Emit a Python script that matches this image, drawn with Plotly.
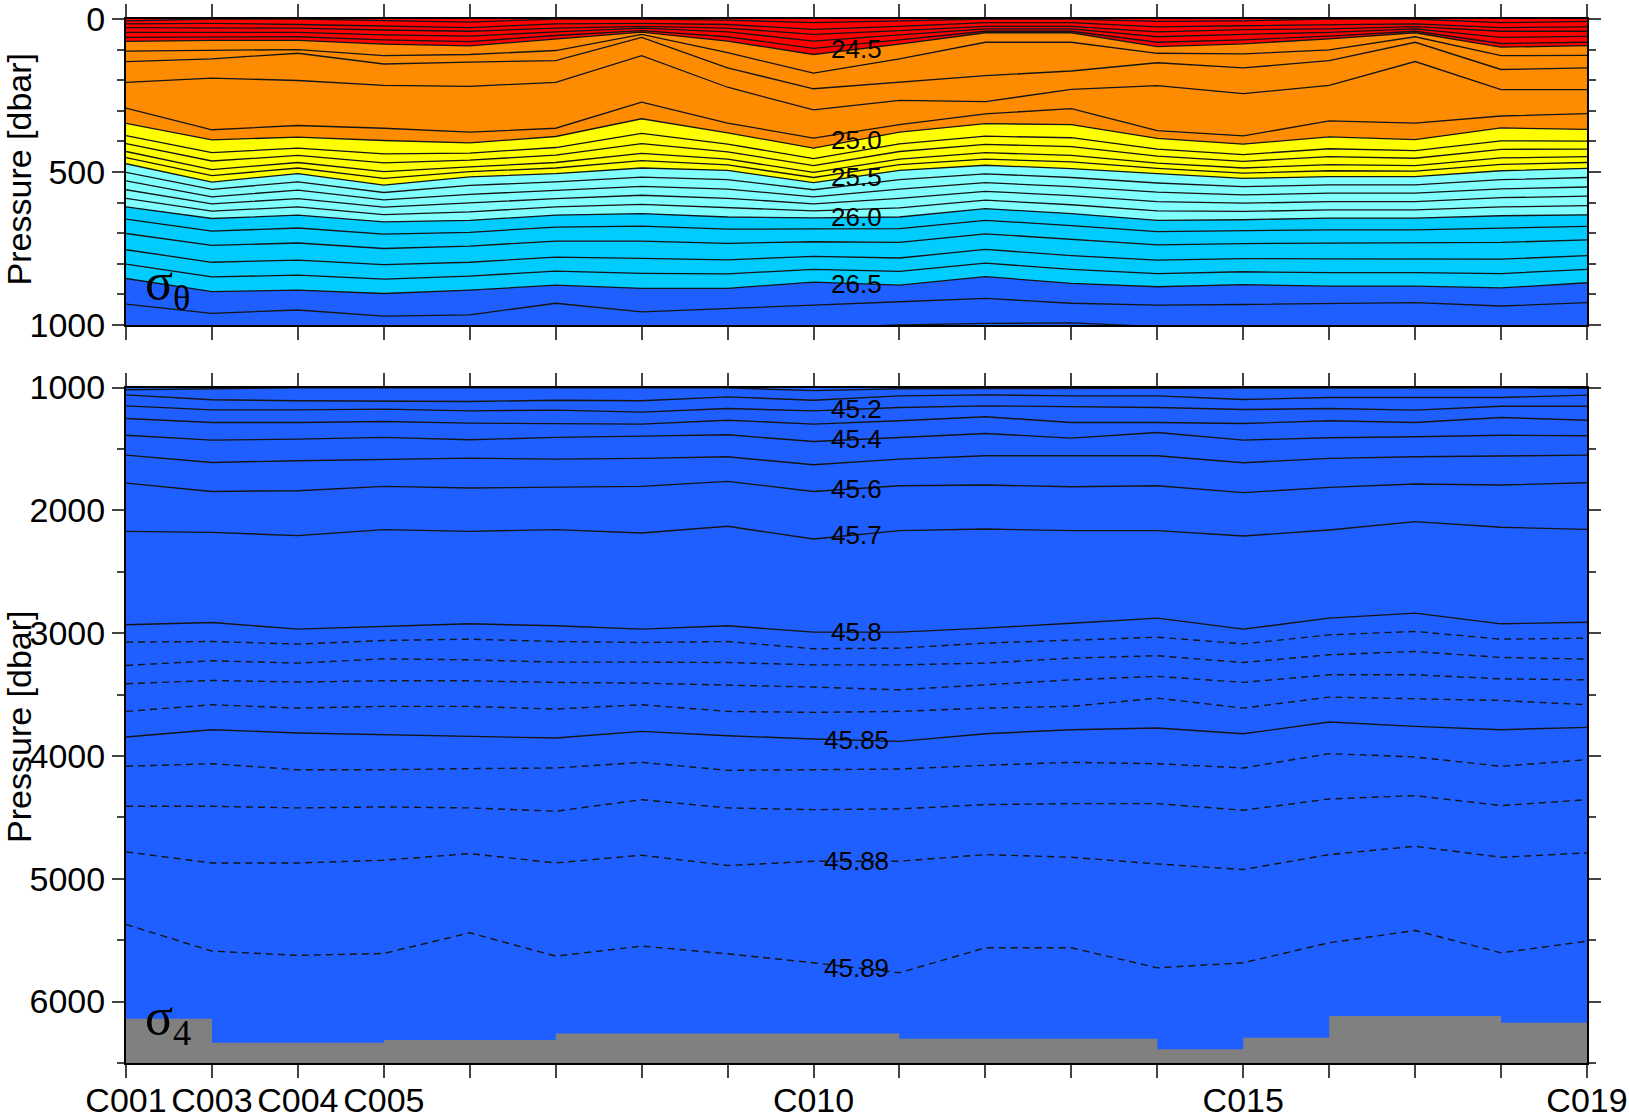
import plotly.graph_objects as go

# ---------------- stations ----------------
STATIONS = ["C001", "C003", "C004", "C005", "C006", "C007", "C008", "C009", "C010",
            "C011", "C012", "C013", "C014", "C015", "C016", "C017", "C018", "C019"]
SHOWN = ["C001", "C003", "C004", "C005", "C010", "C015", "C019"]

# ---------------- upper panel: sigma-theta isopycnal depths [dbar] ----------------
S23_6 = [6, 0, 0, 6, 10, 0, 0, 4, 12, 6, 0, 0, 8, 6, 0, 0, 12, 8]
S23_8 = [16, 14, 18, 24, 28, 16, 14, 18, 34, 24, 12, 12, 26, 22, 20, 16, 28, 26]
S24_0 = [28, 30, 30, 36, 40, 30, 24, 30, 50, 38, 24, 24, 42, 35, 32, 25, 40, 40]
S24_2 = [44, 43, 44, 52, 56, 42, 30, 42, 72, 52, 32, 32, 58, 50, 44, 32, 60, 57]
S24_4 = [60, 58, 58, 68, 74, 54, 38, 58, 96, 68, 40, 40, 76, 68, 56, 40, 80, 76]
S24_5 = [73, 70, 70, 82, 88, 65, 43, 72, 116, 82, 45, 45, 90, 81, 65, 45, 92, 87]
S24_6 = [105, 102, 100, 120, 116, 103, 50, 110, 177, 130, 76, 76, 112, 114, 101, 58, 120, 119]
S24_7 = [139, 130, 112, 147, 141, 136, 60, 160, 228, 206, 185, 170, 143, 160, 136, 76, 165, 160]
S24_8 = [207, 193, 201, 217, 220, 207, 120, 223, 297, 266, 270, 230, 218, 244, 217, 139, 231, 231]
S24_9 = [291, 362, 348, 357, 370, 357, 272, 340, 389, 345, 310, 293, 365, 382, 333, 340, 317, 309]
S25_0 = [341, 395, 386, 397, 405, 384, 326, 372, 422, 370, 342, 345, 390, 409, 385, 394, 356, 361]
S25_1 = [381, 437, 422, 441, 438, 420, 374, 409, 456, 408, 383, 388, 425, 443, 424, 430, 398, 399]
S25_2 = [407, 464, 446, 470, 461, 445, 407, 434, 479, 433, 410, 417, 448, 465, 450, 455, 426, 425]
S25_3 = [433, 492, 469, 499, 483, 469, 439, 458, 501, 458, 437, 446, 471, 487, 476, 479, 454, 450]
S25_4 = [453, 512, 487, 521, 499, 487, 463, 477, 518, 476, 458, 467, 488, 504, 496, 497, 475, 469]
S25_5 = [473, 533, 505, 543, 516, 505, 487, 495, 535, 495, 478, 489, 505, 521, 515, 515, 496, 488]
S25_6 = [501, 557, 532, 567, 544, 532, 517, 525, 558, 525, 506, 518, 536, 548, 542, 542, 525, 518]
S25_7 = [529, 581, 559, 591, 573, 559, 547, 556, 581, 556, 535, 548, 566, 575, 569, 569, 555, 549]
S25_8 = [558, 604, 587, 615, 601, 587, 576, 586, 604, 586, 563, 577, 597, 602, 597, 597, 584, 579]
S25_9 = [586, 628, 614, 639, 630, 614, 606, 617, 627, 617, 592, 607, 627, 629, 624, 624, 614, 610]
S26_0 = [614, 652, 641, 663, 658, 641, 636, 647, 650, 647, 620, 636, 658, 656, 651, 651, 643, 640]
S26_1 = [654, 693, 683, 703, 697, 680, 677, 687, 686, 685, 658, 675, 695, 692, 689, 689, 683, 678]
S26_2 = [701, 740, 732, 750, 742, 726, 726, 733, 728, 730, 702, 720, 738, 734, 733, 733, 730, 722]
S26_3 = [754, 795, 788, 803, 795, 778, 782, 787, 776, 781, 753, 773, 788, 783, 784, 784, 785, 773]
S26_4 = [801, 843, 837, 850, 840, 824, 831, 833, 818, 825, 798, 818, 832, 826, 829, 829, 832, 818]
S26_5 = [848, 891, 886, 897, 886, 870, 880, 880, 860, 870, 842, 864, 875, 868, 873, 873, 879, 862]
S26_6 = [932, 962, 951, 971, 967, 929, 957, 945, 935, 924, 913, 929, 935, 933, 930, 927, 938, 927]
S26_7 = [1030, 1040, 1035, 1040, 1035, 1020, 1020, 1015, 1008, 1000, 995, 993, 1005, 1010, 1015, 1012, 1020, 1015]

TOP_LEVELS = [23.6, 23.8, 24.0, 24.2, 24.4, 24.5, 24.6, 24.7, 24.8, 24.9,
              25.0, 25.1, 25.2, 25.3, 25.4, 25.5, 25.6, 25.7, 25.8, 25.9, 26.0, 26.1, 26.2,
              26.3, 26.4, 26.5, 26.6, 26.7]
TOP_DEPTHS = [S23_6, S23_8, S24_0, S24_2, S24_4, S24_5, S24_6, S24_7,
              S24_8, S24_9, S25_0, S25_1, S25_2, S25_3, S25_4, S25_5, S25_6, S25_7, S25_8,
              S25_9, S26_0, S26_1, S26_2, S26_3, S26_4, S26_5, S26_6, S26_7]
TOP_LABELS = ["24.5", "25.0", "25.5", "26.0", "26.5"]

# colour classes (upper bound of band -> colour)
BAND_LIMITS = [24.5, 25.0, 25.5, 26.0, 26.5, 99.0]
BAND_COLORS = ["#ff0000", "#ff8c00", "#ffff00", "#80ffff", "#00ccff", "#1f5fff"]

# ---------------- lower panel: sigma-4 isopycnal depths [dbar] ----------------
S45_00 = [1018, 1008, 1002, 1003, 1004, 1005, 1005, 1003, 1025, 1010, 1008, 1006, 1005, 1004, 1002, 1003, 1002, 1006]
S45_10 = [1060, 1100, 1108, 1108, 1114, 1103, 1108, 1076, 1103, 1068, 1060, 1068, 1068, 1098, 1081, 1081, 1081, 1062]
S45_20 = [1149, 1182, 1182, 1176, 1190, 1184, 1200, 1171, 1190, 1163, 1149, 1154, 1163, 1179, 1171, 1184, 1152, 1152]
S45_30 = [1252, 1285, 1285, 1276, 1290, 1293, 1298, 1266, 1298, 1271, 1238, 1285, 1285, 1293, 1271, 1285, 1244, 1266]
S45_40 = [1388, 1428, 1420, 1406, 1425, 1406, 1396, 1385, 1439, 1406, 1374, 1412, 1366, 1428, 1409, 1401, 1388, 1393]
S45_50 = [1550, 1610, 1596, 1588, 1575, 1583, 1577, 1564, 1629, 1583, 1556, 1556, 1556, 1612, 1577, 1564, 1558, 1550]
S45_60 = [1778, 1846, 1840, 1805, 1818, 1813, 1805, 1764, 1846, 1800, 1794, 1808, 1800, 1856, 1813, 1786, 1794, 1775]
S45_70 = [2171, 2179, 2206, 2157, 2171, 2157, 2184, 2130, 2233, 2165, 2152, 2165, 2165, 2209, 2160, 2092, 2138, 2155]
S45_80 = [2932, 2913, 2967, 2946, 2924, 2940, 2967, 2940, 2992, 2992, 2959, 2919, 2878, 2967, 2878, 2837, 2924, 2911]
S45_81 = [3073, 3068, 3089, 3060, 3049, 3068, 3076, 3068, 3127, 3122, 3081, 3060, 3033, 3087, 3014, 2986, 3049, 3041]
S45_82 = [3263, 3225, 3244, 3209, 3217, 3236, 3236, 3239, 3258, 3258, 3244, 3203, 3184, 3239, 3176, 3149, 3198, 3211]
S45_83 = [3412, 3385, 3398, 3388, 3388, 3401, 3407, 3420, 3439, 3461, 3420, 3380, 3352, 3401, 3339, 3339, 3372, 3380]
S45_84 = [3637, 3583, 3610, 3596, 3596, 3618, 3583, 3637, 3645, 3637, 3610, 3596, 3529, 3610, 3521, 3537, 3548, 3583]
S45_85 = [3846, 3786, 3813, 3827, 3840, 3854, 3800, 3835, 3862, 3881, 3819, 3786, 3772, 3819, 3724, 3759, 3786, 3767]
S45_86 = [4084, 4063, 4112, 4112, 4103, 4098, 4052, 4117, 4112, 4106, 4076, 4052, 4063, 4098, 3981, 4008, 4084, 4030]
S45_87 = [4410, 4410, 4423, 4415, 4423, 4450, 4356, 4423, 4437, 4431, 4396, 4388, 4388, 4442, 4350, 4323, 4404, 4356]
S45_88 = [4781, 4871, 4871, 4849, 4795, 4871, 4808, 4892, 4857, 4857, 4803, 4825, 4879, 4925, 4803, 4735, 4825, 4789]
S45_89 = [5372, 5589, 5624, 5608, 5440, 5630, 5548, 5611, 5684, 5765, 5562, 5562, 5725, 5684, 5521, 5421, 5603, 5508]

BOT_LEVELS = [45.0, 45.1, 45.2, 45.3, 45.4, 45.5, 45.6, 45.7, 45.8, 45.81, 45.82, 45.83, 45.84,
              45.85, 45.86, 45.87, 45.88, 45.89]
BOT_DEPTHS = [S45_00, S45_10, S45_20, S45_30, S45_40, S45_50, S45_60, S45_70, S45_80, S45_81,
              S45_82, S45_83, S45_84, S45_85, S45_86, S45_87, S45_88, S45_89]
BOT_LABELS = ["45.2", "45.4", "45.6", "45.7", "45.8", "45.85", "45.88", "45.89"]

# bottom depth (step, value holds from a station to the next one)
BATHY = [6139, 6335, 6335, 6313, 6313, 6259, 6259, 6259, 6259, 6302, 6302, 6302, 6389, 6294,
         6118, 6118, 6172, 6172]

TOP_RANGE = [1000, 0]
BOT_RANGE = [6500, 1000]

# ---------------- figure ----------------
xs = list(range(len(STATIONS)))
fig = go.Figure()


def band_color(level):
    for lim, col in zip(BAND_LIMITS, BAND_COLORS):
        if level <= lim + 1e-9:
            return col
    return BAND_COLORS[-1]


# filled bands (upper panel)
for i, (lev, dep) in enumerate(zip(TOP_LEVELS, TOP_DEPTHS)):
    if lev > 26.5 + 1e-9:
        break
    fig.add_trace(go.Scatter(
        x=xs, y=dep, xaxis="x", yaxis="y", mode="lines",
        line=dict(width=0, color=band_color(lev)),
        fill="tozeroy" if i == 0 else "tonexty",
        fillcolor=band_color(lev), hoverinfo="skip", showlegend=False))

# contour lines (upper panel)
for lev, dep in zip(TOP_LEVELS, TOP_DEPTHS):
    fig.add_trace(go.Scatter(
        x=xs, y=dep, xaxis="x", yaxis="y", mode="lines",
        line=dict(width=1.3, color="#151515"), hoverinfo="skip", showlegend=False))

# bathymetry (lower panel): stepped polygon closed along the bottom of the axis
fig.add_trace(go.Scatter(
    x=xs + [xs[-1], xs[0]], y=BATHY + [BOT_RANGE[0], BOT_RANGE[0]],
    xaxis="x2", yaxis="y2", mode="lines", line=dict(shape="hv", width=0, color="#808080"),
    fill="toself", fillcolor="#808080", hoverinfo="skip", showlegend=False))

# contour lines (lower panel)
for lev, dep in zip(BOT_LEVELS, BOT_DEPTHS):
    solid = round(lev * 100) % 5 == 0
    fig.add_trace(go.Scatter(
        x=xs, y=dep, xaxis="x2", yaxis="y2", mode="lines",
        line=dict(width=1.4, color="#151515", dash="solid" if solid else "7px,5px"),
        hoverinfo="skip", showlegend=False))

# contour labels at mid-distance between C010 and C011
LABEL_X = 8.5
lab_font = dict(family="Liberation Sans", size=26, color="black")
ann = []
for lab in TOP_LABELS:
    d = TOP_DEPTHS[[f"{v:.1f}" for v in TOP_LEVELS].index(lab)]
    ann.append(dict(x=LABEL_X, y=(d[8] + d[9]) / 2, xref="x", yref="y", text=lab,
                    showarrow=False, font=lab_font))
for lab in BOT_LABELS:
    d = BOT_DEPTHS[[f"{v:g}" for v in BOT_LEVELS].index(lab)]
    ann.append(dict(x=LABEL_X, y=(d[8] + d[9]) / 2, xref="x2", yref="y2", text=lab,
                    showarrow=False, font=lab_font))

# panel symbols
ann.append(dict(x=0.2, y=870, xref="x", yref="y", text="σ<sub>θ</sub>", showarrow=False,
                xanchor="left", yanchor="middle",
                font=dict(family="Liberation Serif", size=52, color="black")))
ann.append(dict(x=0.2, y=6150, xref="x2", yref="y2", text="σ<sub>4</sub>", showarrow=False,
                xanchor="left", yanchor="middle",
                font=dict(family="Liberation Serif", size=52, color="black")))

# axis titles
for yc in (0.856, 0.322):
    ann.append(dict(x=-0.0732, y=yc, xref="paper", yref="paper", text="Pressure [dbar]",
                    textangle=-90, showarrow=False, xanchor="center", yanchor="middle",
                    font=dict(family="Liberation Sans", size=34, color="black")))

tickfont = dict(family="Liberation Sans", size=34, color="black")
common_x = dict(range=[0, len(STATIONS) - 1], tickmode="array", tickvals=xs,
                ticks="outside", ticklen=13, tickwidth=1.5, tickcolor="#444",
                showline=True, linewidth=2, linecolor="black", mirror="ticks",
                showgrid=False, zeroline=False, tickfont=tickfont, automargin=False,
                ticklabeloverflow="allow")
common_y = dict(ticks="outside", ticklen=12, tickwidth=1.5, tickcolor="#444",
                showline=True, linewidth=2, linecolor="black", mirror="ticks",
                showgrid=False, zeroline=False, tickfont=tickfont, automargin=False,
                ticklabeloverflow="allow")

fig.update_layout(
    width=1629, height=1120,
    margin=dict(l=126, r=42, t=19, b=57, autoexpand=False),
    paper_bgcolor="white", plot_bgcolor="#1f5fff",
    showlegend=False,
    xaxis=dict(**common_x, domain=[0, 1], anchor="y", showticklabels=False),
    yaxis=dict(**common_y, domain=[0.7069, 1], anchor="x", range=TOP_RANGE,
               tickvals=[0, 500, 1000],
               minor=dict(dtick=100, ticklen=7, tickwidth=1.5, tickcolor="#444", ticks="outside")),
    xaxis2=dict(**common_x, domain=[0, 1], anchor="y2", ticklabelstandoff=-7,
                ticktext=[s if s in SHOWN else "" for s in STATIONS]),
    yaxis2=dict(**common_y, domain=[0, 0.647], anchor="x2", range=BOT_RANGE,
                tickvals=[1000, 2000, 3000, 4000, 5000, 6000],
                minor=dict(dtick=500, ticklen=7, tickwidth=1.5, tickcolor="#444", ticks="outside")),
    annotations=ann,
)

fig.write_html("out.html", config={"displayModeBar": False},
               post_script="document.body.style.margin='0px';")
